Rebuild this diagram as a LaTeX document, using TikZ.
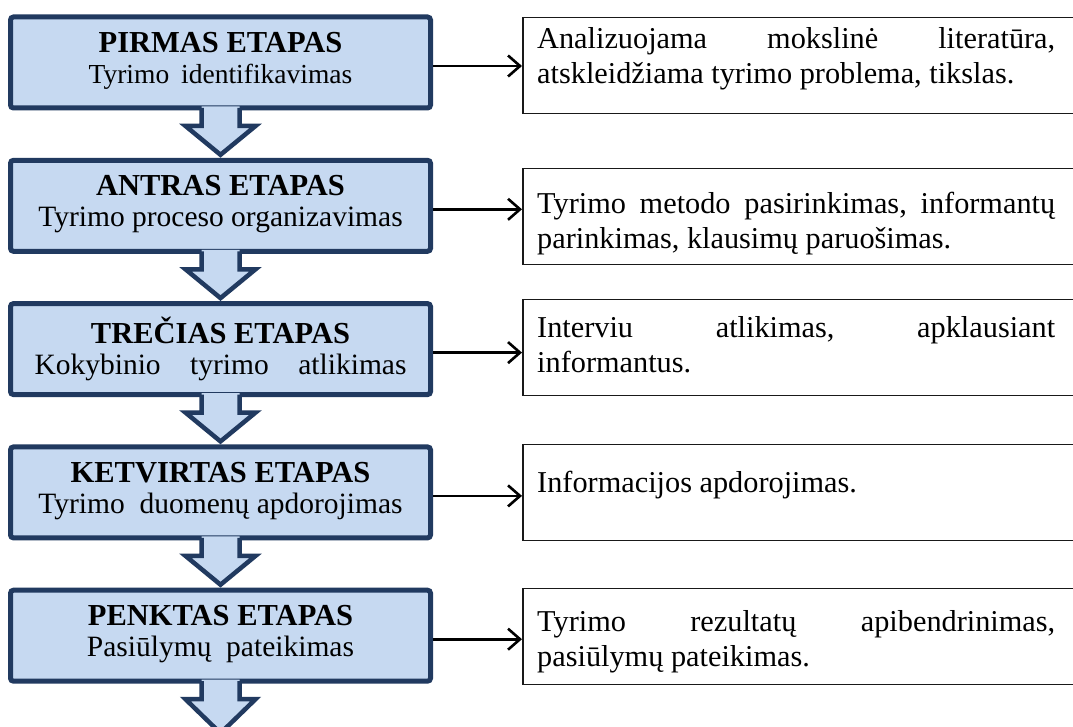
\documentclass[tikz,border=0pt]{standalone}
\usepackage{fontspec}
\setmainfont{Liberation Serif}
\usetikzlibrary{arrows.meta,calc}
\definecolor{stagefill}{RGB}{198,217,241}
\definecolor{stageline}{RGB}{33,58,96}
\definecolor{frameline}{RGB}{25,25,25}
\begin{document}
\begin{tikzpicture}[x=1pt,y=-1pt,
  stagebox/.style={draw=stageline, fill=stagefill, line width=5pt, rounded corners=3pt,
    minimum width=420pt, minimum height=91pt, inner sep=0pt, anchor=north},
  stagetext/.style={inner sep=0pt, anchor=north, align=center, font=\fontsize{29.5}{31}\selectfont},
  notebox/.style={draw=frameline, fill=white, line width=1.5pt, minimum width=600pt,
    minimum height=96pt, inner sep=0pt, anchor=north west},
  notetext/.style={inner sep=0pt, anchor=north west, align=left, font=\fontsize{30.3}{35}\selectfont},
  flow/.style={draw=black, line width=2.6pt, -{Straight Barb[length=12pt,width=21pt,line width=2.6pt]}},
  blockarrow/.style={draw=stageline, line width=4.5pt, line join=miter},
  blockfill/.style={fill=stagefill}
]
\useasboundingbox (0,0) rectangle (1073,727);
\clip (0,0) rectangle (1073,727);
\fill[white] (0,0) rectangle (1073,727);

% left stage boxes
\node[stagebox] (s1) at (220.5,14.5) {};
\node[stagebox] (s2) at (220.5,157.8) {};
\node[stagebox] (s3) at (220.5,301.1) {};
\node[stagebox] (s4) at (220.5,444.4) {};
\node[stagebox] (s5) at (220.5,587.7) {};

\newcommand{\ttl}[1]{\rule{0pt}{22pt}{\fontsize{30.5}{31}\selectfont\bfseries #1}}
\node[stagetext] (t1) at ($(s1.north)+(0,15.5)$) {\ttl{PIRMAS ETAPAS}\\{\fontsize{27.5}{31}\selectfont Tyrimo\hspace{12pt}identifikavimas}};
\node[stagetext] (t2) at ($(s2.north)+(0,15.5)$) {\ttl{ANTRAS ETAPAS}\\Tyrimo proceso organizavimas};
\node[stagetext] (t3) at ($(s3.north)+(0,15.5)$) {\ttl{TREČIAS ETAPAS}\\\makebox[372pt][l]{Kokybinio\hfill tyrimo\hfill atlikimas}};
\node[stagetext] (t4) at ($(s4.north)+(0,15.5)$) {\ttl{KETVIRTAS ETAPAS}\\Tyrimo\ \ duomenų apdorojimas};
\node[stagetext] (t5) at ($(s5.north)+(0,15.5)$) {\ttl{PENKTAS ETAPAS}\\Pasiūlymų\ \ pateikimas};

% block arrows between stages
\coordinate (end) at ($(s5.south)+(0,49.5)$);
\foreach \i/\j in {1/s2.north,2/s3.north,3/s4.north,4/s5.north,5/end}{
  \ifnum\i=5 \coordinate (tip) at (end); \else \coordinate (tip) at ($(\j)+(0,-3)$); \fi
  \fill[blockfill] ($(s\i.south)+(-19,-4)$) -- ($(s\i.south)+(-19,15.5)$) -- ($(s\i.south)+(-35,15.5)$)
     -- (tip) -- ($(s\i.south)+(35,15.5)$) -- ($(s\i.south)+(19,15.5)$) -- ($(s\i.south)+(19,-4)$) -- cycle;
  \draw[blockarrow] ($(s\i.south)+(-19,-2.5)$) -- ($(s\i.south)+(-19,15.5)$) -- ($(s\i.south)+(-35,15.5)$)
     -- (tip) -- ($(s\i.south)+(35,15.5)$) -- ($(s\i.south)+(19,15.5)$) -- ($(s\i.south)+(19,-2.5)$);
}

% right note boxes
\node[notebox] (r1) at (522,16.75) {};
\node[notebox] (r2) at (522,167.75) {};
\node[notebox] (r3) at (522,298.75) {};
\node[notebox] (r4) at (522,443.75) {};
\node[notebox] (r5) at (522,587.75) {};

\newcommand{\fl}{\rule{0pt}{24pt}}
\node[notetext] (n1) at (537,24) {\fl\makebox[518pt][l]{Analizuojama\hfill mokslinė\hfill literatūra,}\\atskleidžiama tyrimo problema, tikslas.};
\node[notetext] (n2) at (537,189) {\fl\makebox[518pt][l]{Tyrimo\hfill metodo\hfill pasirinkimas,\hfill informantų}\\parinkimas, klausimų paruošimas.};
\node[notetext] (n3) at (537,313) {\fl\makebox[518pt][l]{Interviu\hfill atlikimas,\hfill apklausiant}\\informantus.};
\node[notetext] (n4) at (537,468) {\fl Informacijos apdorojimas.};
\node[notetext] (n5) at (537,607) {\fl\makebox[518pt][l]{Tyrimo\hfill rezultatų\hfill apibendrinimas,}\\pasiūlymų pateikimas.};

% connectors
\foreach \i in {1,...,5}{
  \coordinate (a\i) at ($(s\i.east)+(0,3.5)$);
  \draw[flow] (a\i) -- (a\i -| r\i.west);
}
\end{tikzpicture}
\end{document}
